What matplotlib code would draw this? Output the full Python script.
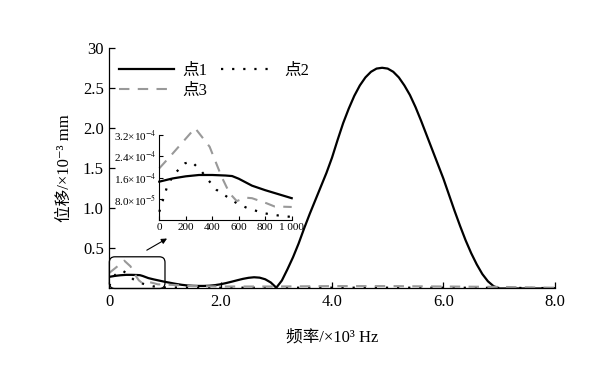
import numpy as np
import matplotlib
matplotlib.use("Agg")
import matplotlib.pyplot as plt
from matplotlib.patches import FancyBboxPatch

plt.rcParams['font.family'] = ['Liberation Serif', 'Noto Sans CJK SC', 'DejaVu Sans']
plt.rcParams['mathtext.fontset'] = 'stix'

# 0-1000 Hz part (Hz, x1e-4 mm), also shown in the inset
f1_low = [0, 100, 200, 300, 400, 500, 550, 600, 700, 800, 900, 1000]
d1_low = [1.45, 1.57, 1.65, 1.70, 1.70, 1.68, 1.66, 1.56, 1.30, 1.13, 0.98, 0.83]
f2_low = [0, 55, 105, 195, 245, 320, 370, 430, 500, 585, 660, 785, 860, 940, 1000]
d2_low = [0.32, 1.20, 1.70, 2.14, 2.20, 1.83, 1.51, 1.15, 0.92, 0.64, 0.47, 0.27, 0.21, 0.15, 0.13]
f3_low = [0, 100, 270, 380, 470, 530, 585, 650, 700, 810, 870, 1000]
d3_low = [1.95, 2.50, 3.46, 2.76, 1.64, 1.02, 0.72, 0.85, 0.83, 0.64, 0.52, 0.50]

# above 1 kHz (kHz, x1e-3 mm)
f1_high = [1.1, 1.2, 1.3, 1.4, 1.5, 1.6, 1.7, 1.8, 1.9, 2.0, 2.1, 2.2, 2.3, 2.4, 2.5, 2.6,
           2.7, 2.8, 2.9, 3.0, 3.1, 3.2, 3.3, 3.4, 3.5, 3.6, 3.7, 3.8, 3.9, 4.0, 4.1, 4.2,
           4.3, 4.4, 4.5, 4.6, 4.7, 4.8, 4.9, 5.0, 5.1, 5.2, 5.3, 5.4, 5.5, 5.6, 5.7, 5.8,
           5.9, 6.0, 6.1, 6.2, 6.3, 6.4, 6.5, 6.6, 6.7, 6.8, 6.9, 7.0, 7.5, 8.0]
d1_high = [0.070, 0.057, 0.046, 0.038, 0.034, 0.032, 0.032, 0.035, 0.042, 0.053, 0.068, 0.085,
           0.103, 0.120, 0.133, 0.140, 0.135, 0.115, 0.075, 0.01, 0.10, 0.24, 0.39, 0.56,
           0.75, 0.93, 1.10, 1.27, 1.44, 1.63, 1.85, 2.06, 2.24, 2.40, 2.53, 2.63, 2.70,
           2.74, 2.75, 2.74, 2.70, 2.63, 2.53, 2.41, 2.26, 2.09, 1.91, 1.73, 1.55, 1.37,
           1.17, 0.97, 0.78, 0.60, 0.44, 0.30, 0.18, 0.09, 0.03, 0.0, 0.0, 0.0]
f2_high = [1.5, 2.0, 3.0, 4.0, 5.0, 6.0, 7.0, 8.0]
d2_high = [0.012, 0.010, 0.010, 0.010, 0.010, 0.010, 0.008, 0.005]
f3_high = [1.5, 2.0, 3.0, 4.0, 5.0, 6.0, 7.0, 8.0]
d3_high = [0.030, 0.025, 0.025, 0.030, 0.030, 0.025, 0.020, 0.010]

names = ['点1', '点2', '点3']

fig = plt.figure(figsize=(5.98, 3.79), dpi=100)
ax = fig.add_axes([0.1828, 0.2388, 0.7448, 0.6353])

solid = dict(color='black', lw=1.6, linestyle='-')
dots = dict(color='black', lw=1.6, linestyle=(0, (1, 4)))
dash = dict(color='#999999', lw=1.5, linestyle=(0, (5, 4)))

x1 = np.concatenate([np.array(f1_low) / 1000, f1_high])
y1 = np.concatenate([np.array(d1_low) / 10, d1_high])
x2 = np.concatenate([np.array(f2_low) / 1000, f2_high])
y2 = np.concatenate([np.array(d2_low) / 10, d2_high])
x3 = np.concatenate([np.array(f3_low) / 1000, f3_high])
y3 = np.concatenate([np.array(d3_low) / 10, d3_high])

l1, = ax.plot(x1, y1, label=names[0], **solid)
l2, = ax.plot(x2, y2, label=names[1], **dots)
l3, = ax.plot(x3, y3, label=names[2], **dash)

ax.set_xlim(0, 8)
ax.set_ylim(0, 3.0)
ax.set_xticks([0, 2, 4, 6, 8])
ax.set_xticklabels(['0', '2.0', '4.0', '6.0', '8.0'])
ax.set_yticks([0.5, 1.0, 1.5, 2.0, 2.5, 3.0])
ax.set_yticklabels(['0.5', '1.0', '1.5', '2.0', '2.5', '30'])
ax.tick_params(direction='in', length=4, width=0.9, labelsize=12, pad=4)
for s in ['top', 'right']:
    ax.spines[s].set_visible(False)
for s in ['left', 'bottom']:
    ax.spines[s].set_linewidth(0.9)

# unicode superscripts so the CJK fallback still works
ax.set_xlabel('频率/×10³ Hz', fontsize=12, labelpad=14)
ax.set_ylabel('位移/×10⁻³ mm', fontsize=12, labelpad=7)

ax.legend([l1, l3, l2], ['点1', '点3', '点2'], ncol=2, frameon=False,
          loc='upper left', bbox_to_anchor=(0.0, 0.98), fontsize=12,
          handlelength=3.3, columnspacing=0.8, handletextpad=0.5,
          labelspacing=0.25, borderaxespad=0.2)

box = FancyBboxPatch((0.0, 0.0), 1.0, 0.395, boxstyle='round,pad=0,rounding_size=0.1',
                     mutation_aspect=0.7, fc='none', ec='black', lw=0.9,
                     transform=ax.transData, clip_on=False)
ax.add_patch(box)
ax.annotate('', xy=(1.08, 0.64), xytext=(0.63, 0.46),
            arrowprops=dict(arrowstyle='-|>', color='black', lw=0.8,
                            mutation_scale=8))

ins = fig.add_axes([0.2664, 0.4187, 0.2214, 0.2251])
ins.patch.set_alpha(0)
ins.plot(f1_low, np.array(d1_low) * 1e-4, clip_on=False, **solid)
ins.plot(f2_low, np.array(d2_low) * 1e-4, clip_on=False, **dots)
ins.plot(f3_low, np.array(d3_low) * 1e-4, clip_on=False, **dash)
ins.set_xlim(0, 1000)
ins.set_ylim(0, 3.2e-4)
ins.set_xticks([0, 200, 400, 600, 800, 1000])
ins.set_xticklabels(['0', '200', '400', '600', '800', '1 000'])
ins.set_yticks([0.8e-4, 1.6e-4, 2.4e-4, 3.2e-4])
ins.set_yticklabels(['8.0×10$^{-5}$', '1.6×10$^{-4}$', '2.4×10$^{-4}$', '3.2×10$^{-4}$'])
ins.tick_params(direction='in', length=3, width=0.8, labelsize=8, pad=2)
for s in ['top', 'right']:
    ins.spines[s].set_visible(False)
for s in ['left', 'bottom']:
    ins.spines[s].set_linewidth(0.8)

fig.savefig('out.png', dpi=100)
